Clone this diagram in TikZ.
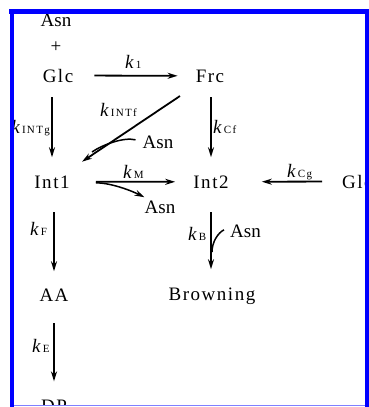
\documentclass[tikz,border=0pt]{standalone}
\usepackage{fontspec}
\setmainfont{Liberation Serif}
\newfontfamily\spaced[LetterSpace=8]{Liberation Serif}
\newfontfamily\subspaced[LetterSpace=12]{Liberation Serif}
\usetikzlibrary{arrows.meta,calc}
\newcommand\kl[1]{\textit{k}\kern2pt{\fontsize{11}{11}\selectfont\subspaced #1}}
\begin{document}
\begin{tikzpicture}[x=1pt,y=-1pt,
  lbl/.style={font=\fontsize{19}{22}\selectfont\spaced, inner sep=0pt, anchor=base},
  asn/.style={font=\fontsize{19}{22}\selectfont, inner sep=0pt, anchor=base},
  kk/.style={font=\fontsize{19}{22}\selectfont, inner sep=0pt, anchor=base west},
  arr/.style={-{Stealth[length=10pt,width=6pt]}, line width=1.8pt},
  crv/.style={line width=1.5pt}]
\useasboundingbox (0,0) rectangle (369,407);
\begin{scope}
\clip (14,14) rectangle (365,405);
\node[asn] (AsnT) at (56,26) {Asn};
\node[asn] (plus) at (56,52) {+};
\node[lbl] (Glc) at (58,82) {Glc};
\node[lbl] (Frc) at (210,82) {Frc};
\node[lbl] (Int1) at (52,188) {Int1};
\node[lbl] (Int2) at (211,188) {Int2};
\node[lbl, anchor=base west] (Glc2) at (342,188) {Glc};
\node[lbl] (AA) at (54,301) {AA};
\node[lbl] (Brown) at (212,300) {Browning};
\node[lbl] (DP) at (54,412) {DP};
\node[asn] (AsnD) at (158,148) {Asn};
\node[asn] (AsnM) at (160,213) {Asn};
\node[asn, anchor=base west] (AsnB) at (230,237) {Asn};
\node[kk] (k1) at (125,68) {\kl{1}};
\node[kk] (kINTf) at (100,116) {\kl{INTf}};
\node[kk, anchor=base east] (kINTg) at (50,133) {\kl{INTg}};
\node[kk] (kCf) at (213,133) {\kl{Cf}};
\node[kk] (kM) at (123,178) {\kl{M}};
\node[kk] (kCg) at (287,177) {\kl{Cg}};
\node[kk] (kF) at (30,235) {\kl{F}};
\node[kk] (kB) at (188,240) {\kl{B}};
\node[kk] (kE) at (32,352) {\kl{E}};
\coordinate (jD) at (92,152);
\coordinate (jB) at (212,252);
\draw[arr, shorten <=21pt, shorten >=18pt] (Glc.east) -- (Frc.west);
\draw[arr, shorten <=15pt, shorten >=18pt] (Int1.north |- Glc.south) -- (Int1.north);
\draw[arr, shorten <=15pt, shorten >=18pt] (Int2.north |- Frc.south) -- (Int2.north);
\draw[arr] ($(Frc.center)!0.19!(Int1.center)$) -- ($(Frc.center)!0.81!(Int1.center)$);
\draw[crv] ($(AsnD.west)+(-7,-2)$) .. controls +(-12,-3) and +(10,-7) .. (jD);
\draw[arr, shorten <=26pt, shorten >=18pt] (Int1.east) -- (Int2.west);
\draw[arr, line width=1.5pt] ($(Int1.east)+(26,1)$) .. controls +(16,0) and +(-12,-6) .. ($(AsnM.north west)+(0,-3)$);
\draw[arr, shorten <=20pt, shorten >=33pt] (Glc2.west) -- (Int2.east);
\draw[arr, shorten <=24pt, shorten >=17pt] (AA.north |- Int1.south) -- (AA.north);
\draw[arr, shorten <=24pt, shorten >=18pt] (Int2.south) -- (Int2.south |- Brown.north);
\draw[crv] ($(AsnB.west)+(-6,-1)$) .. controls +(-6,3) and +(0,-10) .. (jB);
\draw[arr, shorten <=22pt, shorten >=18pt] (AA.south) -- (AA.south |- DP.north);
\end{scope}
\fill[blue] (9,9) rectangle (369,14);
\fill[blue] (10,9) rectangle (14,407);
\fill[blue] (365,9) rectangle (369,407);
\fill[blue!50] (14,404.8) rectangle (365,406);
\end{tikzpicture}
\end{document}
